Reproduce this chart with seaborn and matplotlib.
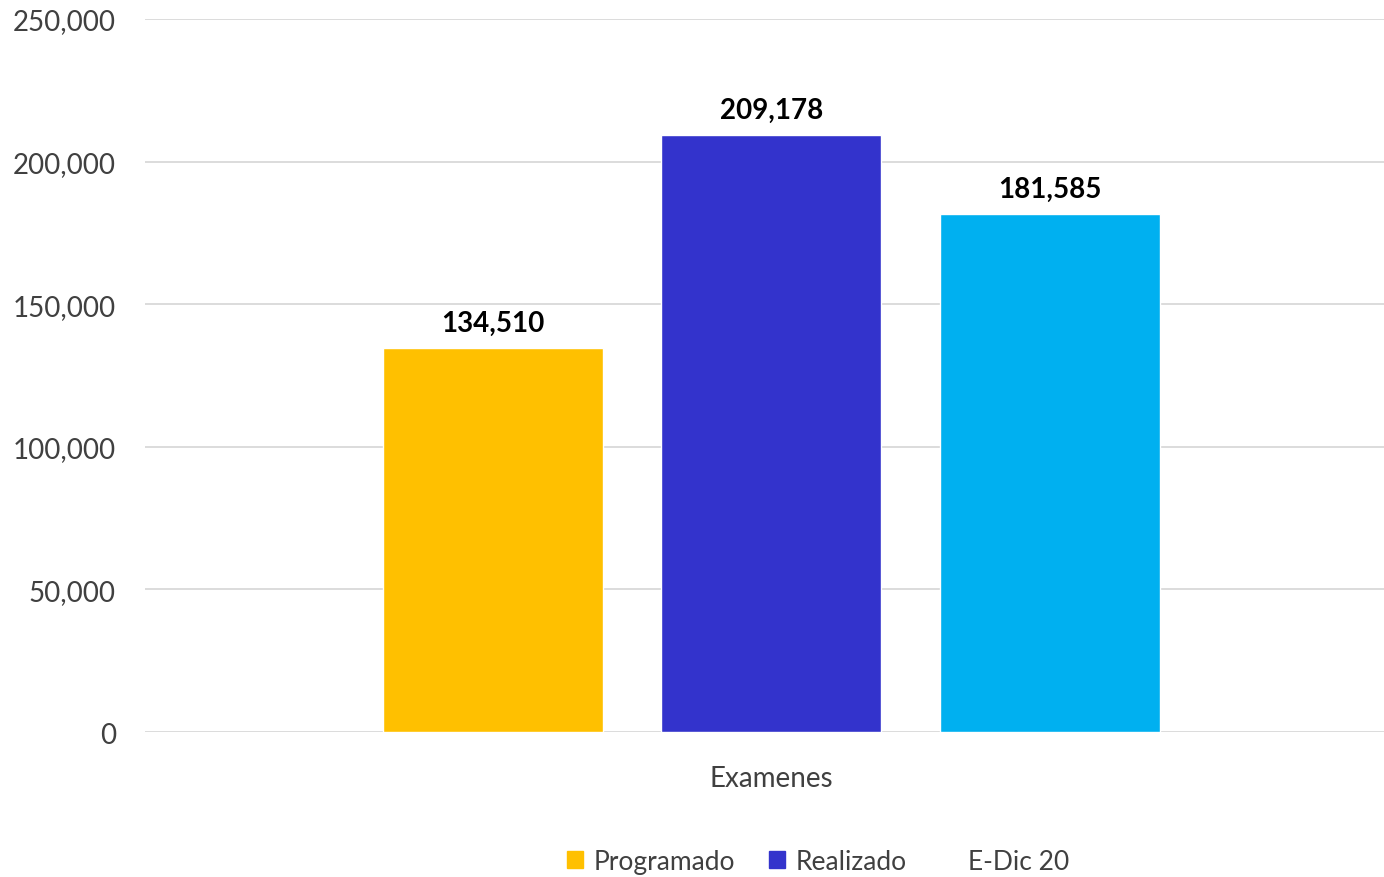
import pandas as pd
import matplotlib
matplotlib.use('Agg')
import matplotlib.pyplot as plt
from matplotlib.patches import Patch
from matplotlib.ticker import FuncFormatter
import seaborn as sns

category = ['Examenes']
series = ['Programado', 'Realizado', 'E-Dic 20']
values = [134510, 209178, 181585]
colors = ['#FFC000', '#3333CC', '#00B0F0']

df = pd.DataFrame({'cat': category * len(series), 'serie': series, 'valor': values})

sns.set_theme(style='white')
plt.rcParams['font.family'] = ['Lato', 'DejaVu Sans']
text_color = '#404040'

fig = plt.figure(figsize=(13.84, 8.78), dpi=100)
ax = fig.add_axes([0.1048, 0.1651, 0.8952, 0.8121])

sns.barplot(data=df, x='cat', y='valor', hue='serie', hue_order=series,
            palette=colors, width=0.8, gap=0.21, saturation=1, ax=ax, legend=False)

for cont in ax.containers:
    ax.bar_label(cont, labels=[f'{v:,.0f}' for v in cont.datavalues],
                 padding=9, fontsize=20, fontweight='bold', color='black')

ax.set_ylim(0, 250000)
ax.set_xlim(-0.6, 0.587)
ax.set_yticks(range(0, 250001, 50000))
ax.yaxis.set_major_formatter(FuncFormatter(lambda v, p: f'{v:,.0f}'))
ax.grid(axis='y', color='#D9D9D9', linewidth=1.3)
ax.set_axisbelow(True)
for s in ax.spines.values():
    s.set_visible(False)
ax.tick_params(axis='y', length=0, pad=21, labelsize=20, labelcolor=text_color)
ax.tick_params(axis='x', length=0, pad=24, labelsize=20, labelcolor=text_color)
ax.set_xlabel('')
ax.set_ylabel('')

handles = [Patch(color=colors[0]), Patch(color=colors[1]), Patch(color='none')]
fig.legend(handles, series, loc='center', bbox_to_anchor=(0.591, 0.018), ncol=3,
           frameon=False, fontsize=19, labelcolor=text_color,
           handlelength=0.6, handleheight=0.6, handletextpad=0.4, columnspacing=1.3)

fig.savefig('out.png', dpi=100)
